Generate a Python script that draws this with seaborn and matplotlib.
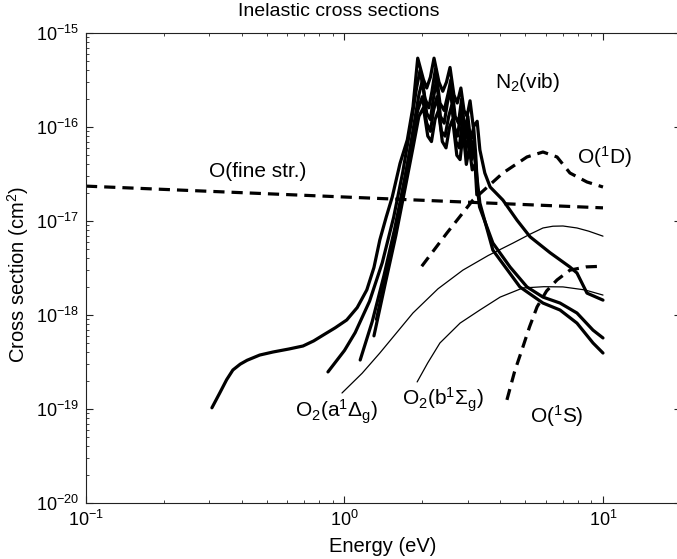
import numpy as np
import pandas as pd
import matplotlib
matplotlib.use("Agg")
import matplotlib.pyplot as plt
from matplotlib.ticker import NullFormatter
import seaborn as sns

# --- data (energy in eV, cross section in cm^2) ---
# O fine structure (dashed)
e_ofine = [0.1, 1.0, 10.0]
s_ofine = [2.35e-17, 1.8e-17, 1.38e-17]

# O(1D) (dashed)
e_o1d = [1.99, 2.49, 3.14, 4.10, 5.08, 5.86, 6.64, 7.45, 8.67, 10.0]
s_o1d = [3.3e-18, 7.45e-18, 1.67e-17, 3.24e-17, 4.8e-17, 5.42e-17, 4.8e-17, 3.24e-17, 2.6e-17, 2.3e-17]

# O(1S) (dashed)
e_o1s = [4.25, 4.55, 4.90, 5.20, 5.56, 6.05, 6.64, 7.45, 8.6, 10.0]
s_o1s = [1.25e-19, 2.5e-19, 4.57e-19, 7.5e-19, 1.22e-18, 1.8e-18, 2.36e-18, 3.0e-18, 3.25e-18, 3.3e-18]

# O2(a1Dg) (thin)
e_o2a = [0.978, 1.17, 1.37, 1.84, 2.30, 2.87, 3.60, 4.49, 5.20, 5.86, 6.40, 7.0, 7.93, 8.8, 10.0]
s_o2a = [1.48e-19, 2.4e-19, 3.94e-19, 1.05e-18, 1.9e-18, 3.0e-18, 4.3e-18, 5.83e-18, 7.2e-18,
         8.43e-18, 8.8e-18, 8.85e-18, 8.43e-18, 7.8e-18, 6.9e-18]

# O2(b1Sg) (thin)
e_o2b = [1.91, 2.10, 2.34, 2.80, 3.34, 4.0, 4.90, 5.90, 7.0, 8.5, 10.0]
s_o2b = [1.94e-19, 3.1e-19, 5.04e-19, 8.2e-19, 1.13e-18, 1.55e-18, 1.94e-18, 2.0e-18, 1.99e-18,
         1.85e-18, 1.63e-18]

# N2 vibrational excitation (thick), several levels
e_n2a = [0.307, 0.33, 0.35, 0.37, 0.395, 0.42, 0.47, 0.529, 0.61, 0.691, 0.76, 0.826, 0.92, 1.02,
         1.12, 1.22, 1.30, 1.37, 1.45, 1.53, 1.64, 1.75, 1.84, 1.92,
         2.02, 2.08, 2.15, 2.22, 2.32, 2.40, 2.48, 2.56, 2.65, 2.73, 2.82, 2.90, 2.98, 3.06,
         3.15, 3.26, 3.34, 3.49, 3.66, 4.10, 4.65, 5.22, 6.24, 7.45, 7.93, 8.67, 10.0]
s_n2a = [1.03e-19, 1.5e-19, 2.05e-19, 2.6e-19, 3.0e-19, 3.3e-19, 3.75e-19, 4.04e-19, 4.35e-19,
         4.68e-19, 5.3e-19, 6.1e-19, 7.3e-19, 8.85e-19, 1.2e-18, 1.85e-18, 3.2e-18, 6.3e-18,
         1.1e-17, 1.8e-17, 4.1e-17, 7.3e-17, 1.63e-16, 5.4e-16, 3.2e-16, 2.6e-16, 3.4e-16, 5.4e-16,
         3.0e-16, 2.4e-16, 3.0e-16, 4.3e-16, 2.2e-16, 1.8e-16, 2.6e-16, 1.5e-16, 1.3e-16,
         1.9e-16, 1.0e-16, 1.15e-16, 5.7e-17, 3.24e-17, 2.3e-17, 1.67e-17, 1.02e-17, 6.8e-18,
         4.6e-18, 3.24e-18, 2.8e-18, 1.71e-18, 1.44e-18]

e_n2b = [0.863, 1.0, 1.1, 1.25, 1.40, 1.55, 1.68, 1.80, 1.90, 1.96, 2.05, 2.12, 2.18, 2.25, 2.34,
         2.43, 2.52, 2.58, 2.68, 2.76, 2.84, 2.92, 3.00, 3.08, 3.16, 3.22, 3.27, 3.33, 3.75, 4.37,
         5.08, 5.86, 6.82, 7.93, 9.15, 10.0]
s_n2b = [2.48e-19, 4.2e-19, 6.5e-19, 1.4e-18, 3.6e-18, 1.1e-17, 3.3e-17, 1.0e-16, 2.6e-16, 4.0e-16,
         2.0e-16, 1.6e-16, 2.4e-16, 4.2e-16, 1.8e-16, 1.5e-16, 2.3e-16, 3.2e-16, 1.3e-16, 1.1e-16,
         2.0e-16, 9e-17, 1.3e-16, 7e-17, 1.0e-16, 5e-17, 2.2e-17, 1.41e-17, 5.83e-18, 3.24e-18,
         1.99e-18, 1.55e-18, 1.34e-18, 1.05e-18, 6.9e-19, 5.7e-19]

e_n2c = [1.15, 1.28, 1.42, 1.56, 1.70, 1.82, 1.92, 2.00, 2.08, 2.15, 2.21, 2.28, 2.37, 2.45, 2.53,
         2.60, 2.70, 2.78, 2.86, 2.94, 3.02, 3.10, 3.18, 3.25, 3.34, 3.75, 4.77, 5.86, 6.82, 7.93,
         9.15, 10.0]
s_n2c = [3.32e-19, 8.5e-19, 2.6e-18, 8e-18, 2.6e-17, 7e-17, 1.5e-16, 2.1e-16, 1.1e-16, 9e-17,
         1.5e-16, 2.1e-16, 9e-17, 8e-17, 1.3e-16, 1.7e-16, 7e-17, 6e-17, 1.2e-16, 5.5e-17, 8e-17,
         4.5e-17, 6e-17, 3e-17, 1.55e-17, 4.9e-18, 1.99e-18, 1.34e-18, 1.13e-18, 8.2e-19,
         5.04e-19, 3.94e-19]

e_n2d = [1.30, 1.44, 1.58, 1.72, 1.84, 1.94, 2.02, 2.10, 2.17, 2.24, 2.31, 2.39, 2.47, 2.55, 2.62,
         2.72, 2.80, 2.88, 2.96, 3.04, 3.12, 3.20, 3.25]
s_n2d = [6e-19, 2.2e-18, 7e-18, 2.3e-17, 6e-17, 1.3e-16, 1.6e-16, 8e-17, 7e-17, 1.2e-16, 1.5e-16,
         7e-17, 6e-17, 1.0e-16, 1.2e-16, 5e-17, 4.5e-17, 9e-17, 4e-17, 6e-17, 3.5e-17, 4e-17, 1.9e-17]

e_n2e = [1.33, 1.46, 1.60, 1.73, 1.85, 1.94, 2.00, 2.08, 2.15, 2.20, 2.27, 2.35, 2.43, 2.50, 2.57,
         2.66, 2.74, 2.82, 2.90, 2.98, 3.06, 3.14, 3.21, 3.28]
s_n2e = [9e-19, 3e-18, 1e-17, 3.2e-17, 1e-16, 2.2e-16, 3.1e-16, 1.4e-16, 1.2e-16, 1.9e-16, 3.2e-16,
         1.3e-16, 1.1e-16, 1.8e-16, 2.5e-16, 1e-16, 8e-17, 1.5e-16, 6.5e-17, 1e-16, 5e-17, 7e-17,
         4e-17, 1.9e-17]

sns.set_theme(style="ticks")
plt.rcParams["font.family"] = ["Liberation Sans", "DejaVu Sans"]
plt.rcParams["mathtext.fontset"] = "custom"
plt.rcParams["mathtext.rm"] = "Liberation Sans"
plt.rcParams["mathtext.it"] = "Liberation Sans:italic"
plt.rcParams["mathtext.bf"] = "Liberation Sans:bold"
plt.rcParams["text.color"] = "black"
plt.rcParams["xtick.color"] = "black"
plt.rcParams["ytick.color"] = "black"
plt.rcParams["axes.labelcolor"] = "black"

fig = plt.figure(figsize=(6.77, 5.59), dpi=100)
ax = fig.add_axes([86 / 677, 1 - 503 / 559, 594.8 / 677, 470 / 559])

dash = (0, (3.5, 2.2))
thick = 2.3
thin = 0.9

curves = [
    (e_ofine, s_ofine, dash, thick),
    (e_o1d, s_o1d, dash, thick),
    (e_o1s, s_o1s, dash, thick),
    (e_o2a, s_o2a, "-", thin),
    (e_o2b, s_o2b, "-", thin),
    (e_n2a, s_n2a, "-", thick),
    (e_n2b, s_n2b, "-", thick),
    (e_n2c, s_n2c, "-", thick),
    (e_n2d, s_n2d, "-", thick),
    (e_n2e, s_n2e, "-", thick),
]
for e, s, ls, lw in curves:
    df = pd.DataFrame({"E": e, "sigma": s})
    sns.lineplot(data=df, x="E", y="sigma", ax=ax, sort=False, estimator=None,
                 color="black", linestyle=ls, linewidth=lw)

ax.set_xscale("log")
ax.set_yscale("log")
ax.set_xticks([0.1, 1, 10])
ax.set_yticks([1e-20, 1e-19, 1e-18, 1e-17, 1e-16, 1e-15])
ax.xaxis.set_minor_formatter(NullFormatter())
ax.yaxis.set_minor_formatter(NullFormatter())
ax.set_xlim(0.1, 20)
ax.set_ylim(1e-20, 1e-15)
ax.set_xlabel("")
ax.set_ylabel("")

for side in ax.spines.values():
    side.set_linewidth(0.8)
    side.set_color("#222222")
ax.tick_params(which="both", direction="in", top=True, right=True, labelsize=13, pad=5,
               color="#222222")
ax.tick_params(which="major", length=5, width=0.8)
ax.tick_params(which="minor", length=2.5, width=0.6)

# curve labels
lab = dict(fontsize=15, color="black", va="center", ha="left")
ax.text(0.30, 3.4e-17, "O(fine str.)", **lab)
ax.text(3.82, 2.94e-16, r"N$_2$(vib)", **lab)
ax.text(7.93, 4.8e-17, r"O($^1$D)", **lab)
ax.text(0.643, 9.3e-20, r"O$_2$(a$^1\Delta_{\mathrm{g}}$)", **lab)
ax.text(1.67, 1.25e-19, r"O$_2$(b$^1\Sigma_{\mathrm{g}}$)", **lab)
ax.text(5.22, 8.4e-20, r"O($^1$S)", **lab)

fig.text(339 / 677, 1 - 11 / 559, "Inelastic cross sections", fontsize=14,
         ha="center", va="center")
fig.text(383 / 677, 1 - 546 / 559, "Energy (eV)", fontsize=14.5, ha="center", va="center")
fig.text(18 / 677, 1 - 275 / 559, r"Cross section (cm$^2$)", fontsize=14.5,
         ha="center", va="center", rotation=90)

fig.savefig("out.png", dpi=100)
